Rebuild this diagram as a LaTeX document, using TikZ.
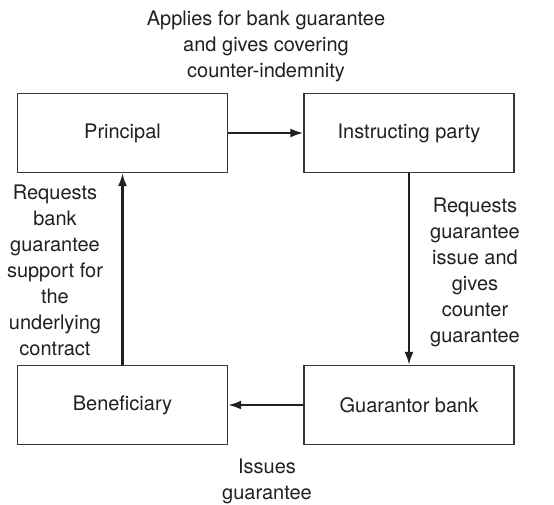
\documentclass[tikz,border=0pt]{standalone}
\usepackage{fontspec}
\setmainfont{TeX Gyre Heros}
\usepackage{xcolor}
\usepackage{tikz}
\usetikzlibrary{arrows.meta, positioning}
\definecolor{mydark}{RGB}{35,31,32}
\definecolor{myframe}{RGB}{55,55,55}
\tikzset{
  party/.style={rectangle, draw=myframe, fill=white,
    minimum width=210pt, minimum height=79pt, inner sep=0pt,
    font=\fontsize{20}{26}\selectfont, text=mydark, line width=1.3pt},
  note/.style={align=center, inner sep=0pt,
    font=\fontsize{20}{26}\selectfont, text=mydark},
  arrow/.style={-{Latex[length=13pt,width=9pt]}, line width=2.2pt, color=mydark}
}

\begin{document}
\begin{tikzpicture}[x=1pt, y=-1pt]
  \useasboundingbox (0,0) rectangle (554,505);

  % Parties
  \node[party] (principal) at (122.5,133) {Principal};
  \node[party] (instructing) at (409,133) {Instructing party};
  \node[party] (beneficiary) at (122.5,405) {Beneficiary};
  \node[party] (guarantor) at (409,405) {Guarantor bank};

  % Flows
  \draw[arrow] (principal) -- (instructing);
  \draw[arrow] (instructing) -- (guarantor);
  \draw[arrow] (guarantor) -- (beneficiary);
  \draw[arrow] (beneficiary) -- (principal);

  % Labels
  \node[note] (applies) at (266,46) {Applies for bank guarantee\\and gives covering\\counter-indemnity};
  \node[note] (requestsbank) at (55,270) {Requests\\bank\\guarantee\\support for\\the\\underlying\\contract};
  \node[note] (requestsissue) at (475,272.5) {Requests\\guarantee\\issue and\\gives\\counter\\guarantee};
  \node[note] (issues) at (267,481) {Issues\\guarantee};
\end{tikzpicture}
\end{document}
